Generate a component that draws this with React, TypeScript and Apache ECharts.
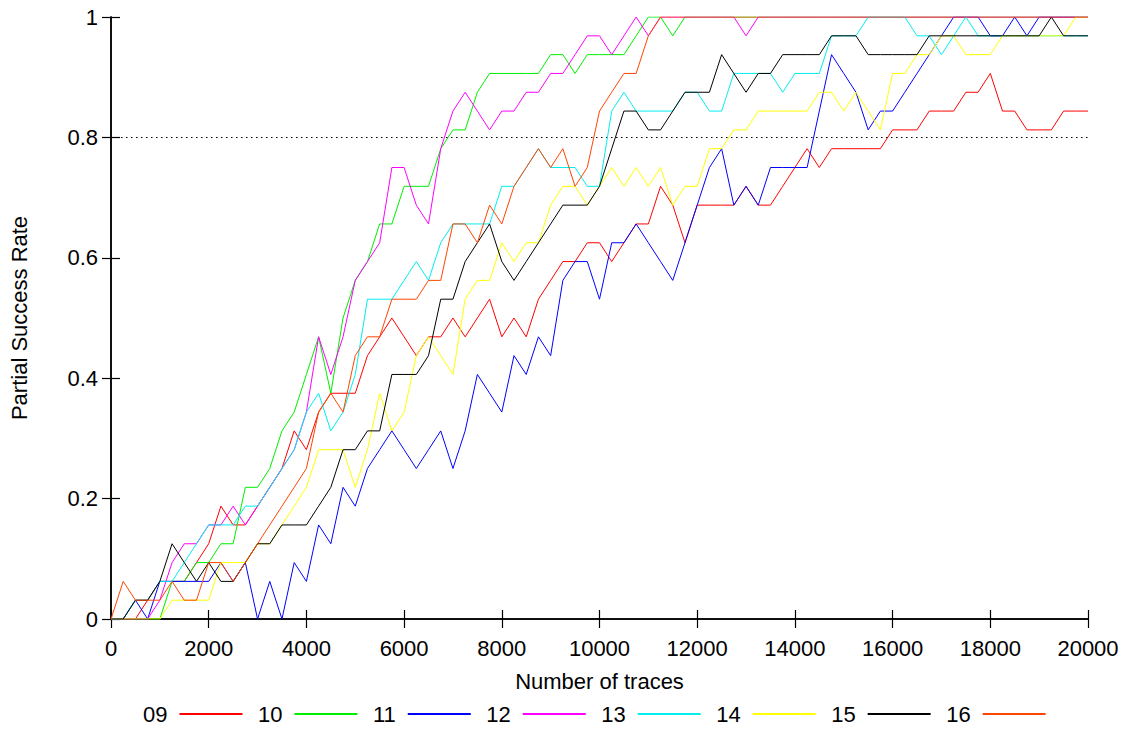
import React, { useEffect, useRef } from "react";
import * as echarts from "echarts";

// Partial success rate = recovered key bytes out of 32, sampled every 250 traces
const KEY_BYTES = 32;
const TRACE_STEP = 250;

const S09 = [0,0,0,1,2,2,2,3,4,6, 5,5,6,7,8,10,9,11,12,12, 12,14,15,16,15,14,15,15,16,15, 16,17,15,16,15,17,18,19,19,20, 20,19,20,21,21,23,22,20,22,22, 22,22,23,22,22,23,24,25,24,25, 25,25,25,25,26,26,26,27,27,27, 28,28,29,27,27,26,26,26,27,27,27];
const S10 = [0,0,0,0,0,2,2,3,3,4, 4,7,7,8,10,11,13,15,12,16, 18,19,21,21,23,23,23,25,26,26, 28,29,29,29,29,29,30,30,29,30, 30,30,30,31,32,32,31,32,32,32, 32,32,32,32,32,32,32,32,32,32, 32,32,32,32,32,32,32,32,32,32, 32,32,32,32,32,32,32,32,32,32,32];
const S11 = [0,0,1,0,2,2,2,2,2,3, 2,3,0,2,0,3,2,5,4,7, 6,8,9,10,9,8,9,10,8,10, 13,12,11,14,13,15,14,18,19,19, 17,20,20,21,20,19,18,20,22,24, 25,22,23,22,24,24,24,24,27,30, 29,28,26,27,27,28,29,30,31,32, 32,32,31,31,32,31,32,32,32,32,32];
const S12 = [0,0,0,0,1,3,4,4,5,5, 6,5,6,7,8,9,11,15,13,15, 18,19,20,24,24,22,21,25,27,28, 27,26,27,27,28,28,29,29,30,31, 31,30,31,32,31,32,32,32,32,32, 32,32,31,32,32,32,32,32,32,32, 32,32,32,32,32,32,32,32,32,32, 32,32,32,32,32,32,32,32,32,32,32];
const S13 = [0,0,1,1,2,2,3,4,5,5, 5,6,6,7,8,9,11,12,10,11, 13,17,17,17,18,19,18,20,21,21, 21,21,23,23,24,25,24,24,24,23, 23,27,28,27,27,27,27,28,28,27, 27,29,29,29,29,28,29,29,29,31, 31,31,32,32,32,32,31,31,30,31, 32,31,31,31,31,31,31,31,31,31,31];
const S14 = [0,0,0,0,0,1,1,1,1,3, 3,3,4,4,5,6,7,9,9,9, 7,9,12,10,11,14,15,14,13,17, 18,18,20,19,20,20,22,23,23,22, 23,24,23,24,23,24,22,23,23,25, 25,26,26,27,27,27,27,27,28,28, 27,28,27,26,29,29,30,30,31,31, 30,30,30,31,31,31,31,31,31,32,32];
const S15 = [0,0,1,1,2,4,3,2,3,2, 2,3,4,4,5,5,5,6,7,9, 9,10,10,13,13,13,14,17,17,19, 20,21,19,18,19,20,21,22,22,22, 23,25,27,27,26,26,27,28,28,28, 30,29,28,29,29,30,30,30,30,31, 31,31,30,30,30,30,30,31,31,31, 31,31,31,31,31,31,31,32,31,31,31];
const S16 = [0,2,1,1,1,2,1,1,3,3, 2,3,4,5,6,7,8,11,12,11, 14,15,15,17,17,17,18,18,21,21, 20,22,21,23,24,25,24,25,23,24, 27,28,29,29,31,32,32,32,32,32, 32,32,32,32,32,32,32,32,32,32, 32,32,32,32,32,32,32,32,32,32, 32,32,32,32,32,32,32,32,32,32,32];

const SERIES_VALUES = [S09, S10, S11, S12, S13, S14, S15, S16];
const SERIES_NAMES = ["09", "10", "11", "12", "13", "14", "15", "16"];
const SERIES_COLORS = ["#ff0000", "#00ee00", "#0000ff", "#ff00ff", "#00eeee", "#ffff00", "#000000", "#ff4500"];
const THRESHOLD = 0.8;

const FONT = "'Liberation Sans', Arial, Helvetica, sans-serif";
const FS = 22;

export default function App() {
  const ref = useRef<HTMLDivElement>(null);
  useEffect(() => {
    if (!ref.current) return;
    const chart = echarts.init(ref.current, null, { renderer: "svg" });
    const series = SERIES_VALUES.map((vals, si) => {
      const s: any = {
        name: SERIES_NAMES[si],
        type: "line",
        xAxisIndex: 0,
        yAxisIndex: 0,
        symbol: "none",
        showSymbol: false,
        color: SERIES_COLORS[si],
        lineStyle: { color: SERIES_COLORS[si], width: 1 },
        data: vals.map((k, i) => [i * TRACE_STEP, k / KEY_BYTES]),
        z: 2 + si,
      };
      if (si === 0) {
        s.markLine = {
          silent: true,
          symbol: ["none", "none"],
          label: { show: false },
          lineStyle: { color: "#000", width: 1, type: [1.5, 3.5] },
          data: [{ yAxis: THRESHOLD }],
        };
      }
      return s;
    });
    const tick = { show: true, inside: true, length: 9, lineStyle: { color: "#000", width: 1.2 } };
    const line = { show: true, lineStyle: { color: "#000", width: 1.5 } };
    chart.setOption({
      animation: false,
      backgroundColor: "#fff",
      textStyle: { fontFamily: FONT },
      grid: { left: 111, top: 17, width: 977, height: 602, containLabel: false },
      xAxis: [
        {
          type: "value", position: "bottom", min: 0, max: 20000, interval: 2000,
          axisLine: line, axisTick: tick, splitLine: { show: false },
          axisLabel: {
            color: "#000", fontSize: FS, fontFamily: FONT, margin: 18,
            formatter: (v: number) => String(v),
          },
          name: "Number of traces", nameLocation: "middle", nameGap: 51,
          nameTextStyle: { color: "#000", fontSize: FS, fontFamily: FONT },
        },
        {
          type: "value", position: "top", min: 0, max: 20000, interval: 2000,
          axisLine: line, axisTick: tick, splitLine: { show: false }, axisLabel: { show: false },
        },
      ],
      yAxis: [
        {
          type: "value", position: "left", min: 0, max: 1, interval: 0.2,
          axisLine: line, axisTick: tick, splitLine: { show: false },
          axisLabel: { color: "#000", fontSize: FS, fontFamily: FONT, margin: 13 },
          name: "Partial Success Rate", nameLocation: "middle", nameGap: 81,
          nameTextStyle: { color: "#000", fontSize: FS, fontFamily: FONT },
        },
        {
          type: "value", position: "right", min: 0, max: 1, interval: 0.2,
          axisLine: line, axisTick: tick, splitLine: { show: false }, axisLabel: { show: false },
        },
      ],
      legend: {
        data: SERIES_NAMES,
        left: 143,
        top: 703,
        padding: 0,
        align: "right",
        itemWidth: 63,
        itemHeight: 14,
        itemGap: 14.5,
        selectedMode: false,
        itemStyle: { opacity: 0, borderWidth: 0 },
        textStyle: { color: "#000", fontSize: FS, fontFamily: FONT, padding: [0, 7, 0, 0] },
      },
      series,
    });
    return () => chart.dispose();
  }, []);
  return (
    <div
      ref={ref}
      style={{ position: "absolute", left: 0, top: 0, width: 1135, height: 730, background: "#fff" }}
    />
  );
}
